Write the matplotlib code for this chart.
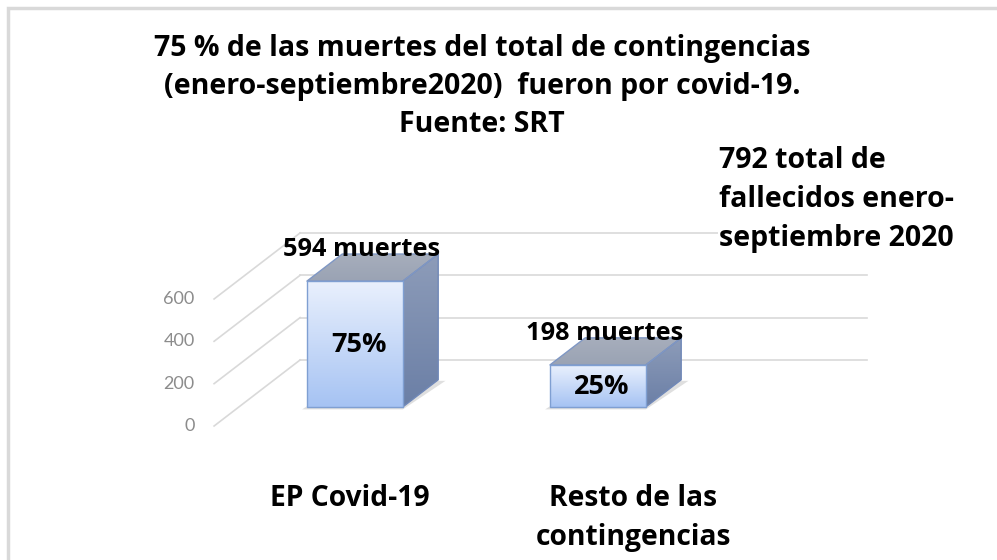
import matplotlib.pyplot as plt
import numpy as np
from matplotlib.patches import Polygon, Rectangle
from matplotlib.colors import LinearSegmentedColormap

categorias = ['EP Covid-19', 'Resto de las\ncontingencias']
muertes = [594, 198]
porcentajes = ['75%', '25%']
etiquetas = ['594 muertes', '198 muertes']
ticks_y = [0, 200, 400, 600]
titulo = ('75 % de las muertes del total de contingencias\n'
          '(enero-septiembre2020)  fueron por covid-19.\n'
          'Fuente: SRT')
nota = '792 total de\nfallecidos enero-\nseptiembre 2020'

# falso 3D: proyeccion oblicua, z = profundidad (0 frente, 1 fondo)
DX, DY = 0.354, 312.0
piso_x0, piso_x1 = -0.477, 1.856
z0, z1 = 0.29, 0.70
ancho = 0.395
letra = 'Open Sans'


def proj(x, v, z):
    return x + z * DX, v + z * DY


fig = plt.figure(figsize=(9.97, 5.6), dpi=100)
ax = fig.add_axes([0, 0, 1, 1])
ax.axis('off')

# marco del grafico
fig.patches.append(Rectangle((8 / 997, -0.1), 1.2, 1.1 - 8 / 560,
                             transform=fig.transFigure, fill=False,
                             edgecolor='#d9d9d9', lw=2.5))

# pared de fondo y lineas diagonales
for t in ticks_y:
    a = proj(piso_x0, t, 1)
    b = proj(piso_x1, t, 1)
    c = proj(piso_x0, t, 0)
    ax.plot([a[0], b[0]], [a[1], b[1]], color='#d9d9d9', lw=1.2, zorder=1)
    ax.plot([c[0], a[0]], [c[1], a[1]], color='#d9d9d9', lw=1.2, zorder=1)
    ax.text(c[0] - 0.08, c[1], str(t), ha='right', va='center',
            color='#8c8c8c', fontsize=13, family='Lato')


def cara(pts, col_arriba, col_abajo, borde, zo):
    poly = Polygon(pts, closed=True, facecolor='none', edgecolor=borde,
                   lw=1.0, zorder=zo + 0.5, joinstyle='round')
    ax.add_patch(poly)
    xs = [p[0] for p in pts]
    ys = [p[1] for p in pts]
    grad = np.linspace(0, 1, 100)[:, None]
    cmap = LinearSegmentedColormap.from_list('g', [col_abajo, col_arriba])
    im = ax.imshow(grad, extent=[min(xs), max(xs), min(ys), max(ys)],
                   origin='lower', cmap=cmap, aspect='auto', zorder=zo,
                   interpolation='bilinear')
    im.set_clip_path(poly)


for i, v in enumerate(muertes):
    xa, xb = i - ancho / 2, i + ancho / 2
    # sombra suave
    sombra = [proj(xa - 0.02, -12, z0), proj(xb, -12, z0),
              proj(xb + 0.03, -5, z1), proj(xa + 0.02, -5, z1)]
    ax.add_patch(Polygon(sombra, closed=True, facecolor='#505050',
                         alpha=0.18, lw=0, zorder=2))
    frente = [proj(xa, 0, z0), proj(xb, 0, z0), proj(xb, v, z0), proj(xa, v, z0)]
    lado = [proj(xb, 0, z0), proj(xb, 0, z1), proj(xb, v, z1), proj(xb, v, z0)]
    techo = [proj(xa, v, z0), proj(xb, v, z0), proj(xb, v, z1), proj(xa, v, z1)]
    cara(lado, '#8d9cb9', '#6b7fa6', '#7088b8', 3)
    cara(techo, '#a7aebc', '#9aa3b4', '#7f97c4', 3)
    cara(frente, '#e9f0fd', '#a6c3f3', '#7f9fd2', 4)

    xm, ym = proj(i, v, (z0 + z1) / 2)
    ax.annotate(etiquetas[i], (xm, ym), xytext=(-8, 13),
                textcoords='offset points', ha='center', va='center',
                fontsize=18.3, fontweight='bold', family=letra, zorder=10)
    xp, yp = proj(i, v / 2, z0)
    ax.annotate(porcentajes[i], (xp, yp), xytext=(3, -1),
                textcoords='offset points', ha='center', va='center',
                fontsize=19.5, fontweight='bold', family=letra, zorder=10)

# etiquetas de categorias, repartidas sobre el frente del piso
paso = (piso_x1 - piso_x0) / len(categorias)
for k, cat in enumerate(categorias):
    xc, yc = proj(piso_x0 + (k + 0.5) * paso, 0, 0)
    ax.annotate(cat, (xc - 0.025, yc), xytext=(0, -42),
                textcoords='offset points', ha='center', va='top',
                fontsize=20.3, fontweight='bold', family=letra,
                linespacing=1.45)

fig.text(482 / 997, 1 - 34 / 560, titulo, ha='center', va='top',
         fontsize=20.5, fontweight='bold', family=letra, linespacing=1.42)
fig.text(719 / 997, 1 - 146 / 560, nota, ha='left', va='top',
         fontsize=20.5, fontweight='bold', family=letra, linespacing=1.45,
         bbox=dict(facecolor='white', edgecolor='none', pad=1), zorder=10)

ax.set_xlim(-330 / 243, (997 - 330) / 243)
ax.set_ylim((426 - 560) / 0.2117, 426 / 0.2117)

plt.savefig('out.png', dpi=100)
